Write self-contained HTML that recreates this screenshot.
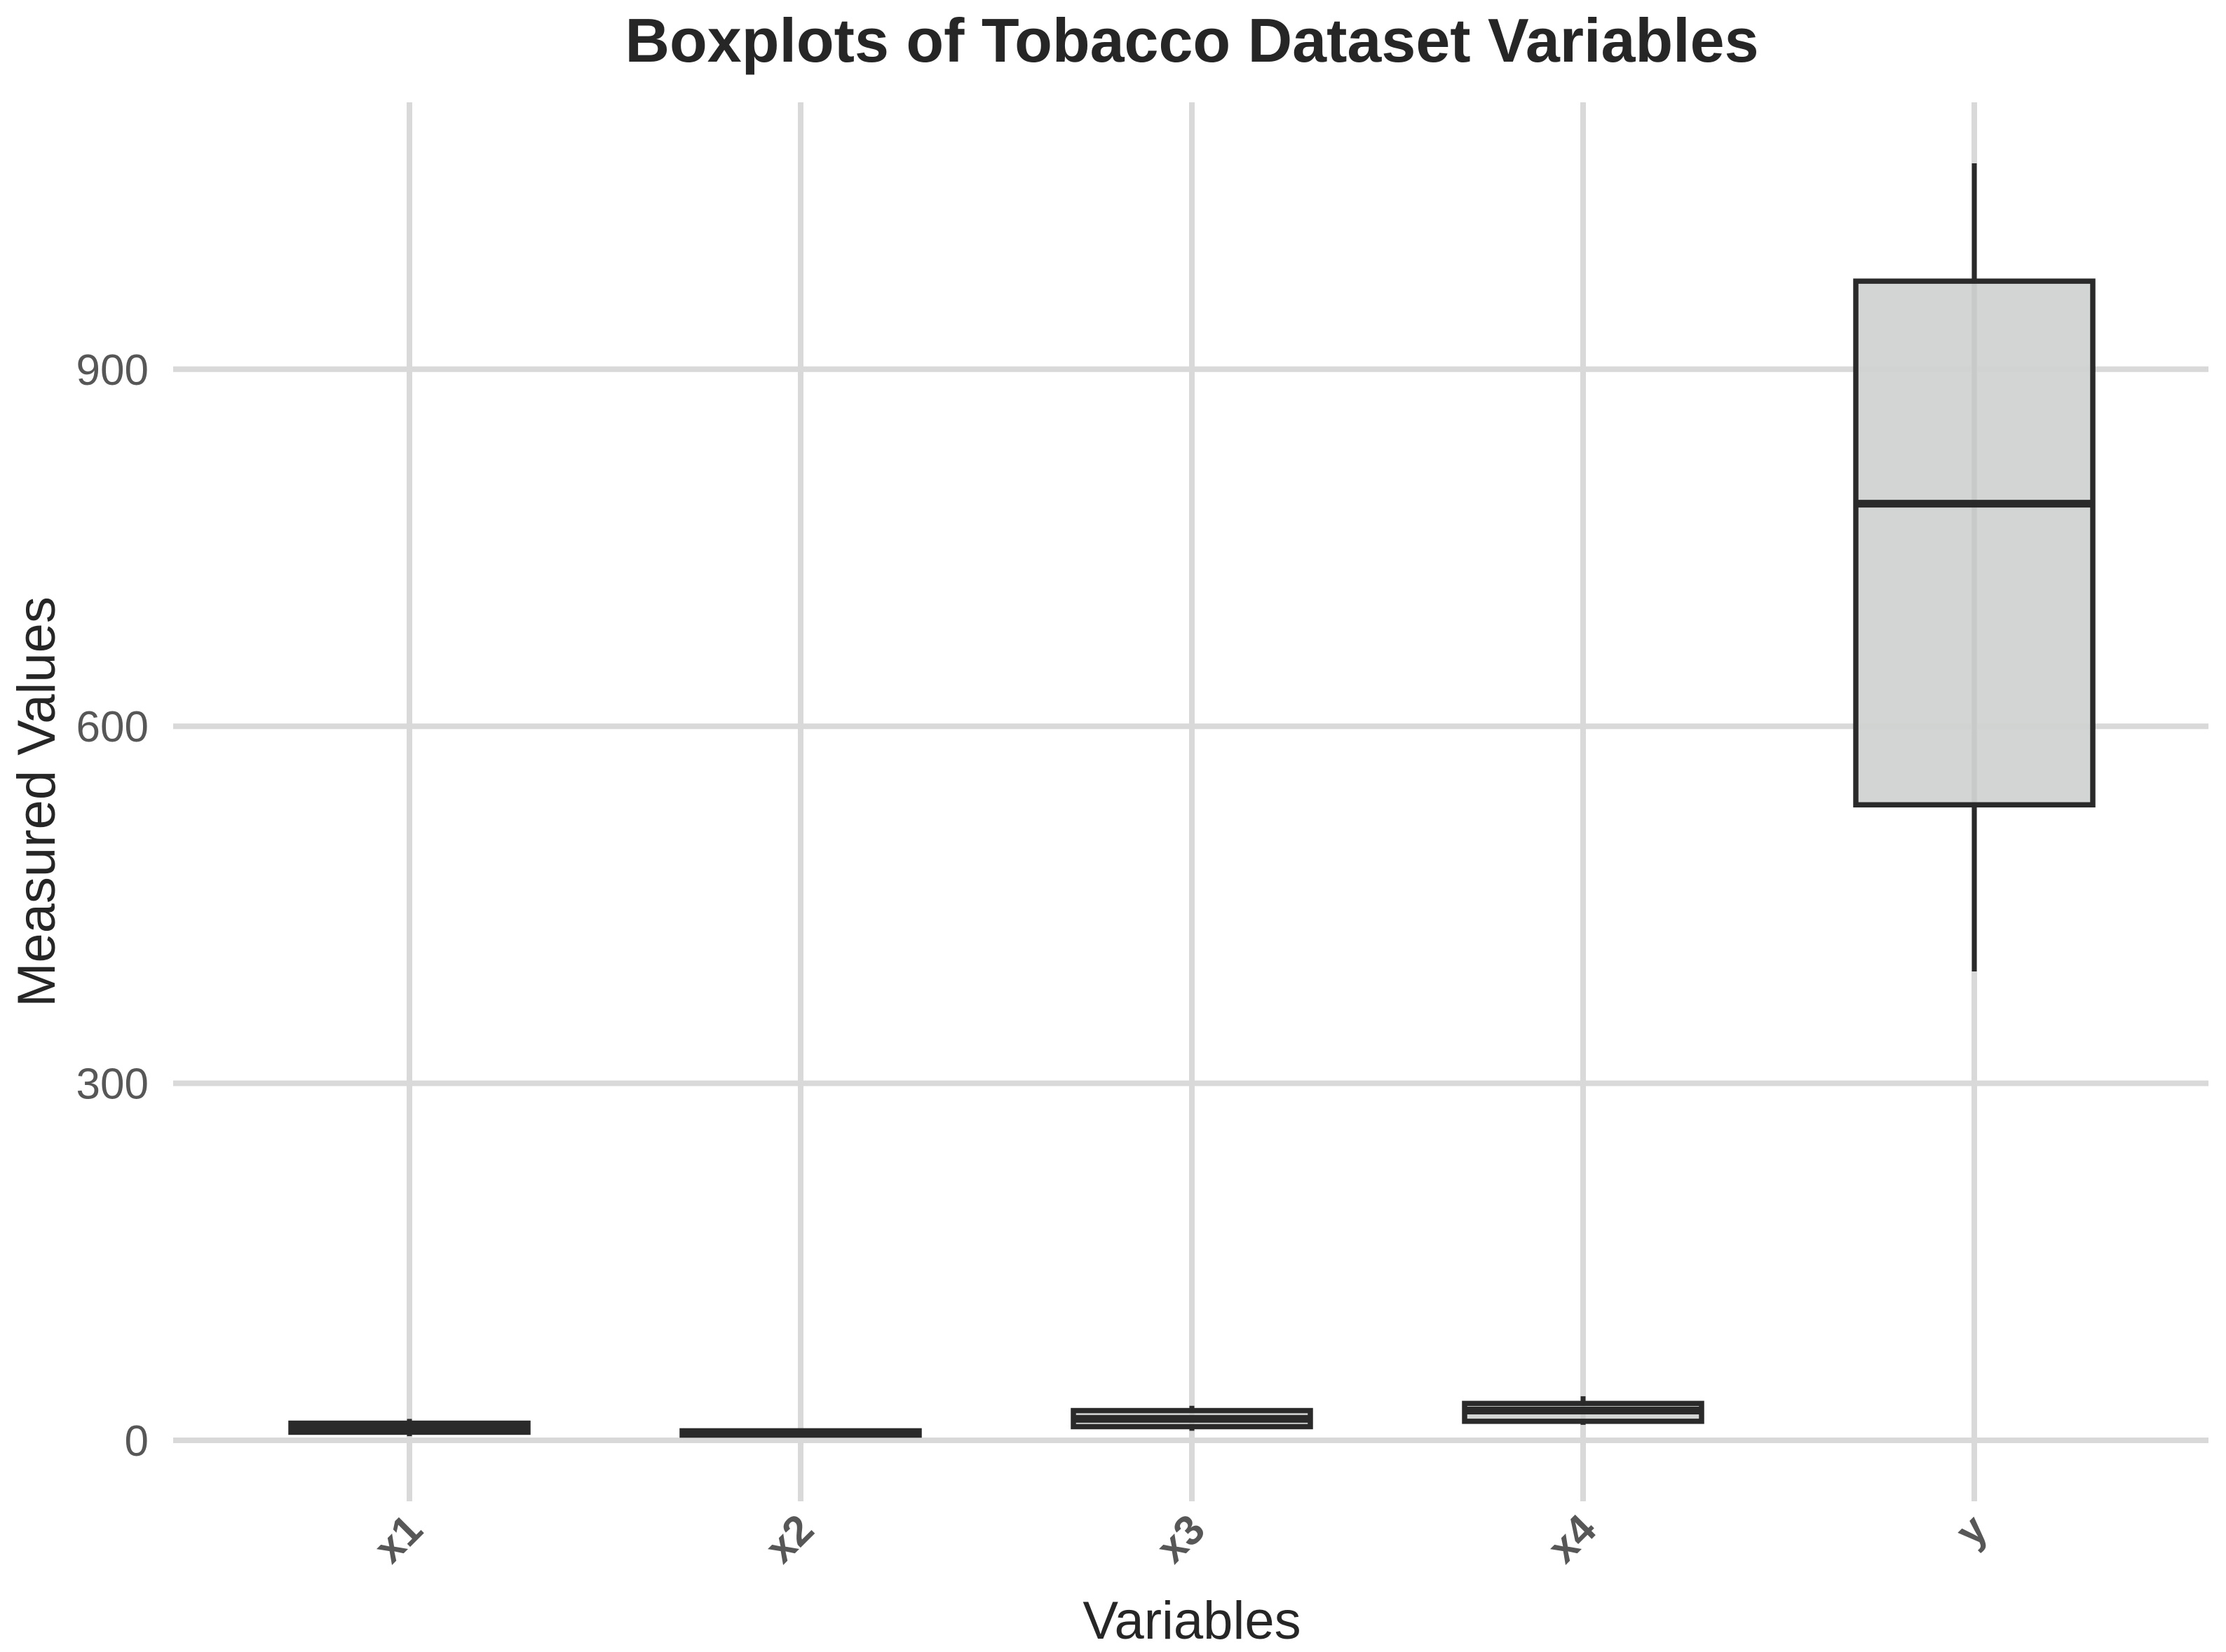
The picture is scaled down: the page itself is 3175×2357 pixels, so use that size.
<!DOCTYPE html>
<html><head><meta charset="utf-8"><style>html,body{margin:0;padding:0;background:#fff}svg{display:block}</style></head>
<body>
<svg id="chart" width="3175" height="2357" viewBox="0 0 3175 2357" xmlns="http://www.w3.org/2000/svg" font-family="Liberation Sans, Arial, sans-serif">
<rect width="3175" height="2357" fill="#fff"/>
<text x="1700" y="88" text-anchor="middle" font-size="88" font-weight="bold" fill="#262626">Boxplots of Tobacco Dataset Variables</text>
<g id="grid"></g>
<g id="boxes"></g>
<g id="labels"></g>
<text x="1700" y="2338" text-anchor="middle" font-size="76" fill="#262626">Variables</text>
<text transform="translate(78,1144) rotate(-90)" text-anchor="middle" font-size="76" fill="#262626">Measured Values</text>
</svg>
<script>
const categories = ["x1","x2","x3","x4","y"];
const whiskerLow = [3.5, 3, 8, 13, 394];
const q1 = [6.8, 4.4, 11.5, 16, 534];
const median = [10, 6, 18, 25, 787];
const q3 = [14.4, 8, 25, 31, 974];
const whiskerHigh = [18, 9.5, 29, 37, 1073];
const yTicks = [0, 300, 600, 900];

const NS = "http://www.w3.org/2000/svg";
const y = v => 2055 - v * 1.698;
const x = i => 584 + i * 558;
const boxW = 338;
function mk(tag, attrs, parent) {
  const e = document.createElementNS(NS, tag);
  for (const k in attrs) e.setAttribute(k, attrs[k]);
  parent.appendChild(e);
  return e;
}
const grid = document.getElementById('grid');
const boxes = document.getElementById('boxes');
const labels = document.getElementById('labels');
yTicks.forEach(t => {
  const l = mk('line', {x1: 247, x2: 3150, y1: y(t), y2: y(t), stroke: '#d9d9d9', 'stroke-width': 8}, grid);
  
  
  const tx = mk('text', {x: 212, y: y(t) + 22, 'text-anchor': 'end', 'font-size': 62, fill: '#575757'}, labels);
  tx.textContent = t;
  
  
});
categories.forEach((c, i) => {
  const l = mk('line', {x1: x(i), x2: x(i), y1: 146, y2: 2142, stroke: '#d9d9d9', 'stroke-width': 8}, grid);
  
  
  const g = mk('g', {}, boxes);
  
  
  mk('line', {x1: x(i), x2: x(i), y1: y(whiskerHigh[i]), y2: y(whiskerLow[i]), stroke: '#2a2a2a', 'stroke-width': 7}, g);
  mk('rect', {x: x(i) - boxW / 2, y: y(q3[i]), width: boxW, height: y(q1[i]) - y(q3[i]), fill: '#d1d3d2', 'fill-opacity': 0.95, stroke: '#2a2a2a', 'stroke-width': 7.5}, g);
  mk('line', {x1: x(i) - boxW / 2, x2: x(i) + boxW / 2, y1: y(median[i]), y2: y(median[i]), stroke: '#2a2a2a', 'stroke-width': 11}, g);
  const tx = mk('text', {transform: `translate(${x(i) + 22},${2186}) rotate(-45)`, 'text-anchor': 'end', 'font-size': 60, 'font-weight': 'bold', fill: '#575757'}, labels);
  tx.textContent = c;
  
  
});
</script>
</body></html>
